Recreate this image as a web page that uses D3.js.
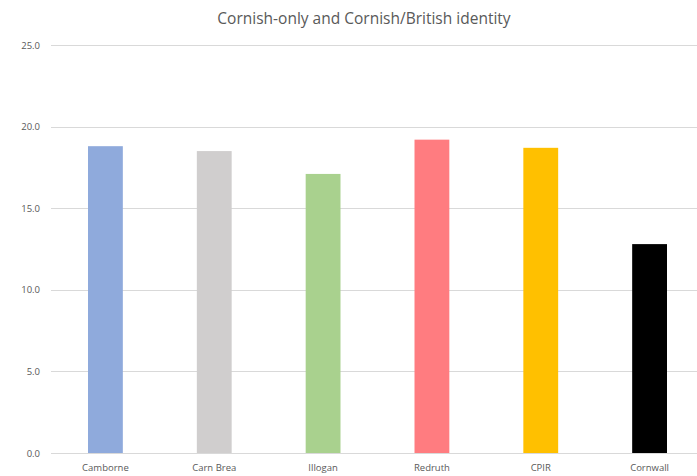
<!DOCTYPE html>
<html>
<head>
<meta charset="utf-8">
<script src="https://cdn.jsdelivr.net/npm/d3@7"></script>
<style>
  body { margin: 0; background: #fff; }
  text { font-family: "Open Sans", "Liberation Sans", sans-serif; fill: #595959; }
</style>
</head>
<body>
<div id="chart"></div>
<script>
// chart data
var categories = ["Camborne", "Carn Brea", "Illogan", "Redruth", "CPIR", "Cornwall"];
var values = [18.8, 18.5, 17.1, 19.2, 18.7, 12.8];
var colors = ["#8faadc", "#d0cece", "#a9d18e", "#ff7c80", "#ffc000", "#000000"];
var yTicks = [0, 5, 10, 15, 20, 25];

var svgWidth = 697;
var svgHeight = 476;

var svg = d3.select("#chart")
  .append("svg")
  .attr("width", svgWidth)
  .attr("height", svgHeight);

// plot area runs a little past the right edge, like the original
var xScale = d3.scaleBand()
  .domain(categories)
  .range([51, 704])
  .paddingInner(0.68)
  .paddingOuter(0.34);

var yScale = d3.scaleLinear()
  .domain([0, 25])
  .range([453, 45]);

// gridlines
svg.append("g")
  .selectAll("line")
  .data(yTicks)
  .enter()
  .append("line")
  .attr("x1", 51)
  .attr("x2", 697)
  .attr("y1", d => Math.round(yScale(d)) + 0.5)
  .attr("y2", d => Math.round(yScale(d)) + 0.5)
  .attr("stroke", "#d9d9d9")
  .attr("stroke-width", 1);

// y axis labels
var yAxis = d3.axisLeft(yScale)
  .tickValues(yTicks)
  .tickFormat(d3.format(".1f"))
  .tickSize(0)
  .tickPadding(11);

svg.append("g")
  .attr("transform", "translate(51,0)")
  .call(yAxis)
  .call(g => g.select(".domain").remove())
  .selectAll("text")
  .style("font-size", "9.5px")
  .attr("fill", "#595959");

// bars
svg.append("g")
  .selectAll("rect")
  .data(values)
  .enter()
  .append("rect")
  .attr("x", (d, i) => xScale(categories[i]))
  .attr("y", d => yScale(d))
  .attr("width", xScale.bandwidth())
  .attr("height", d => yScale(0) - yScale(d))
  .attr("fill", (d, i) => colors[i]);

// x axis labels
var xAxis = d3.axisBottom(xScale)
  .tickSize(0)
  .tickPadding(11);

svg.append("g")
  .attr("transform", "translate(0,453)")
  .call(xAxis)
  .call(g => g.select(".domain").remove())
  .selectAll("text")
  .style("font-size", "9.5px")
  .attr("fill", "#595959");

// title
svg.append("text")
  .attr("x", 364)
  .attr("y", 24)
  .attr("text-anchor", "middle")
  .style("font-size", "15.5px")
  .text("Cornish-only and Cornish/British identity");
</script>
</body>
</html>
